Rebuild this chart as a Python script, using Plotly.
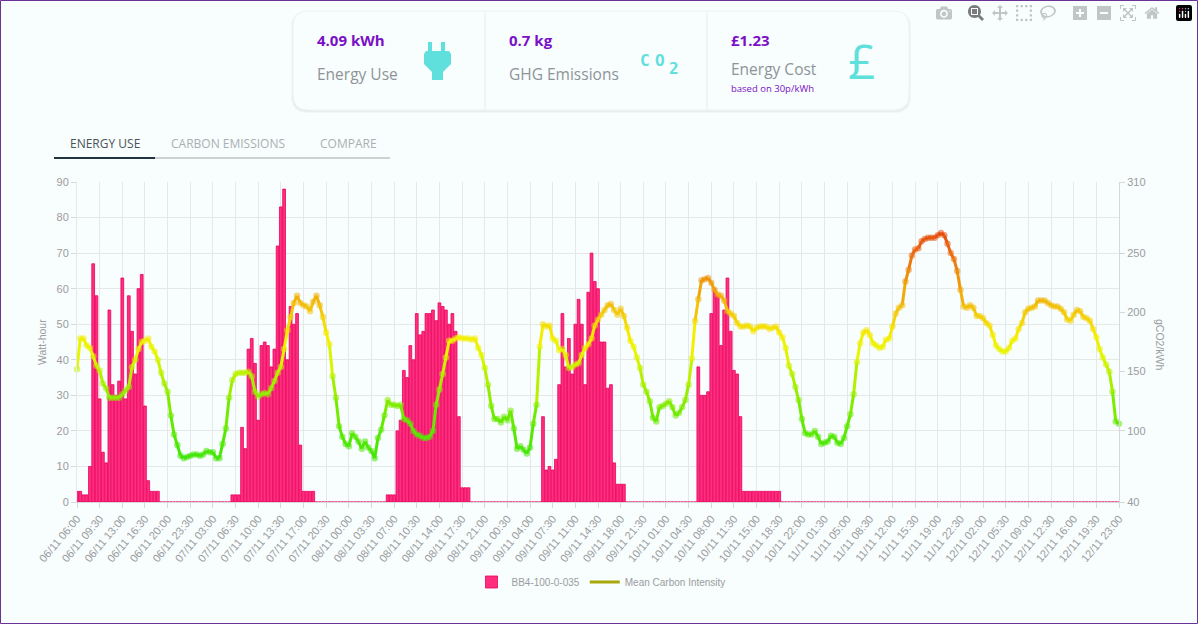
import pandas as pd
import plotly.graph_objects as go
from plotly.colors import sample_colorscale

times = pd.date_range("2023-11-06 06:00", "2023-11-12 23:00", freq="30min")
categories = [t.strftime("%d/%m %H:%M").replace("/11", "/11") for t in times]

energy_wh = [3,3,2,2,10,67,58,29,14,11,54,33,30,34,63,29,58,48,36,60,64,27,6,3,3,3] + [0]*22 + \
    [2,2,2,21,15,43,46,39,23,44,45,44,38,43,72,83,88,40,55,50,53,16,3,3,3,3] + [0]*22 + \
    [2,2,2,20,23,37,35,44,40,53,47,48,53,53,54,51,56,55,54,50,53,48,24,4,4,4] + [0]*22 + \
    [24,9,10,9,12,33,53,38,46,36,50,57,50,33,59,70,62,60,45,45,32,33,11,5,5,5] + [0]*22 + \
    [38,30,30,31,53,60,58,44,54,63,48,37,36,24,3,3,3,3,3,3,3,3,3,3,3,3] + [0]*105

carbon_intensity = [
152,178,178,172,170,163,155,151,140,136,128,128,128,128,131,134,137,154,160,169,
175,176,178,171,167,160,149,140,133,113,97,88,79,77,78,79,80,80,79,80,
83,82,82,77,77,89,102,128,143,148,149,149,149,150,146,133,129,131,132,131,
136,142,149,154,169,185,196,208,214,208,206,205,201,209,214,206,196,183,173,146,
128,104,95,89,87,98,95,91,85,91,86,83,77,94,101,113,126,122,122,121,
122,110,109,106,100,97,96,94,94,95,100,122,135,148,162,176,176,178,179,178,
178,178,177,178,170,164,153,139,121,110,110,107,112,109,117,102,85,87,84,81,
86,106,122,171,190,188,189,178,176,168,169,164,153,154,156,157,164,170,173,178,
189,194,198,202,206,207,202,198,203,197,187,176,171,162,153,139,133,125,111,108,
120,121,123,125,120,113,115,120,126,139,161,193,211,227,228,229,225,219,215,214,
210,201,199,197,191,188,188,189,188,184,187,188,188,188,186,187,188,183,179,170,
155,148,137,126,110,98,97,97,100,95,89,90,91,96,95,90,89,94,104,114,
131,158,174,183,185,181,174,172,170,171,177,178,188,199,204,206,226,236,248,253,
254,260,262,263,263,263,265,267,265,258,250,245,235,219,205,204,206,204,197,197,
195,191,189,181,172,169,167,167,170,176,178,186,191,200,203,204,205,210,210,210,
208,206,205,205,203,200,194,193,198,202,201,196,195,193,186,179,169,162,156,150,
133,108,106]

left_ticks = list(range(0, 100, 10))
right_ticks = [40, 100, 150, 200, 250, 310]

CMIN, CMAX = 75, 270
stops = [(75, "#3fe60a"), (110, "#66ea00"), (140, "#a6ef00"), (165, "#e6f500"),
         (180, "#f5ee00"), (200, "#f3c80a"), (225, "#ef9a0a"), (250, "#ea6a10"), (270, "#e4480f")]
scale = [[(v - CMIN) / (CMAX - CMIN), c] for v, c in stops]

PL, PR, PT, PB = 77, 1119, 182, 502
W, H = 1198, 624
def px(x): return (x - PL) / (PR - PL)
def py(y): return (PB - y) / (PB - PT)

GREY = "#9a9c9e"
TEAL = "#5fe0dc"
PURPLE = "#7a10c6"
BG = "#f8fdfd"

fig = go.Figure()
fig.add_trace(go.Bar(x=categories, y=energy_wh, name="BB4-100-0-035", yaxis="y",
                     marker=dict(color="#ff2f7e", line=dict(color="#e8005f", width=0.8)),
                     hoverinfo="skip"))
for i in range(len(categories) - 1):
    mid = (carbon_intensity[i] + carbon_intensity[i + 1]) / 2
    col = sample_colorscale(scale, (min(max(mid, CMIN), CMAX) - CMIN) / (CMAX - CMIN))[0]
    fig.add_trace(go.Scatter(x=categories[i:i + 2], y=carbon_intensity[i:i + 2], yaxis="y2",
                             mode="lines", line=dict(color=col, width=3),
                             showlegend=False, hoverinfo="skip"))
fig.add_trace(go.Scatter(x=categories, y=carbon_intensity, yaxis="y2", mode="markers",
                         marker=dict(size=6.5, color=carbon_intensity, colorscale=scale,
                                     cmin=CMIN, cmax=CMAX, opacity=0.55, showscale=False),
                         showlegend=False, cliponaxis=False, hoverinfo="skip"))
fig.add_trace(go.Scatter(x=[categories[0]], y=[None], yaxis="y2", mode="lines",
                         name="Mean Carbon Intensity", line=dict(color="#a8a80c", width=3)))

shapes = []
def rrect(x0, y0, x1, y1, r, **kw):
    path = (f"M {px(x0+r)} {py(y0)} L {px(x1-r)} {py(y0)} Q {px(x1)} {py(y0)} {px(x1)} {py(y0+r)} "
            f"L {px(x1)} {py(y1-r)} Q {px(x1)} {py(y1)} {px(x1-r)} {py(y1)} "
            f"L {px(x0+r)} {py(y1)} Q {px(x0)} {py(y1)} {px(x0)} {py(y1-r)} "
            f"L {px(x0)} {py(y0+r)} Q {px(x0)} {py(y0)} {px(x0+r)} {py(y0)} Z")
    return dict(type="path", xref="paper", yref="paper", path=path, **kw)
def rect(x0, y0, x1, y1, color, width=0, fill=True):
    return dict(type="rect", xref="paper", yref="paper", x0=px(x0), x1=px(x1), y0=py(y1), y1=py(y0),
                fillcolor=color if fill else "rgba(0,0,0,0)",
                line=dict(width=width, color=color))

# page border
shapes.append(rect(0.5, 0.5, 1197.5, 623.5, "#6a3299", 1, False))
# card with soft shadow
shapes.append(rrect(291, 11, 911, 113, 17, fillcolor="rgba(120,130,130,0.05)", line_width=0))
shapes.append(rrect(292, 11, 910, 112, 16, fillcolor="rgba(120,130,130,0.07)", line_width=0))
shapes.append(rrect(293, 11, 909, 110, 15, fillcolor=BG, line=dict(color="#eef2f2", width=1)))
shapes.append(rect(484.5, 12, 485.5, 110, "#e9eeee"))
shapes.append(rect(706.5, 12, 707.5, 110, "#e9eeee"))
# plug icon
plug_pts = [(428,42),(432,42),(432,51),(441,51),(441,42),(445,42),(445,51),(449,51),(451,54),(451,64),
            (443,72),(443,80),(432,80),(432,72),(424,64),(424,54),(426,51),(428,51)]
shapes.append(dict(type="path", xref="paper", yref="paper", fillcolor=TEAL, line_width=0,
                   path="M " + " L ".join(f"{px(x)} {py(y)}" for x, y in plug_pts) + " Z"))
# tabs underline
shapes.append(rect(54, 157, 390, 159, "#ccd3d5"))
shapes.append(rect(54, 157, 155, 159, "#1f3340"))

def txt(x, y, s, size, color, family="Open Sans", bold=False, anchor="left", angle=0):
    return dict(xref="paper", yref="paper", x=px(x), y=py(y), text=f"<b>{s}</b>" if bold else s,
                showarrow=False, xanchor=anchor, yanchor="middle", textangle=angle,
                font=dict(size=size, color=color, family=family))
CARD = "Open Sans"
ann = [
    txt(315, 40, "4.09 kWh", 15, PURPLE, CARD, True),
    txt(315, 74, "Energy Use", 15.5, "#8d9498", CARD),
    txt(507, 40, "0.7 kg", 15, PURPLE, CARD, True),
    txt(507, 74, "GHG Emissions", 15.5, "#8d9498", CARD),
    txt(729, 40, "£1.23", 15, PURPLE, CARD, True),
    txt(729, 69, "Energy Cost", 15.5, "#8d9498", CARD),
    txt(729, 88, "based on 30p/kWh", 9.5, PURPLE, CARD),
    txt(861, 61, "£", 48, TEAL, "Open Sans", False, "center"),
    txt(645, 61, "C", 16, TEAL, "DejaVu Sans Mono", True, "center"),
    txt(660, 61, "O", 16, TEAL, "DejaVu Sans Mono", True, "center"),
    txt(674, 68, "2", 16, TEAL, "DejaVu Sans Mono", True, "center"),
    txt(68, 143, "ENERGY USE", 12, "#4a5358", CARD),
    txt(169, 143, "CARBON EMISSIONS", 12, "#a9b0b3", CARD),
    txt(318, 143, "COMPARE", 12, "#a9b0b3", CARD),
    txt(42, 342, "Watt-hour", 10.5, GREY, "Liberation Sans", False, "center", -90),
    txt(1160, 345, "gCO2/kWh", 10.5, GREY, "Liberation Sans", False, "center", 90),
]

axis_font = dict(family="Liberation Sans", size=11, color=GREY)
fig.update_layout(
    width=W, height=H, paper_bgcolor=BG, plot_bgcolor=BG,
    margin=dict(l=PL, r=W - PR, t=PT, b=H - PB, autoexpand=False),
    barmode="overlay", bargap=0.14,
    xaxis=dict(type="category", categoryorder="array", categoryarray=categories, range=[0, 322],
               dtick=7, tick0=0, tickangle=-50, tickfont=axis_font, showgrid=True, gridcolor="#e4e8e9",
               gridwidth=1, ticks="outside", ticklen=5, tickcolor="#d5d9da", showline=True,
               linecolor="#d5d9da", zeroline=False),
    yaxis=dict(range=[0, 90], tickvals=left_ticks, tickfont=axis_font, showgrid=True, gridcolor="#e4e8e9",
               ticks="outside", ticklen=5, tickcolor="#d5d9da", showline=True, linecolor="#e4e8e9",
               zeroline=False),
    yaxis2=dict(range=[40, 310], tickvals=right_ticks, overlaying="y", side="right", tickfont=axis_font,
                showgrid=False, ticks="outside", ticklen=5, tickcolor="#d5d9da", showline=True,
                linecolor="#d5d9da", zeroline=False),
    legend=dict(orientation="h", x=px(601), y=py(582), xanchor="center", yanchor="middle",
                font=dict(family="Liberation Sans", size=10, color=GREY), bgcolor="rgba(0,0,0,0)",
                tracegroupgap=0),
    shapes=shapes, annotations=ann, showlegend=True,
)
fig.write_html("out.html", post_script="document.body.style.margin='0';")
